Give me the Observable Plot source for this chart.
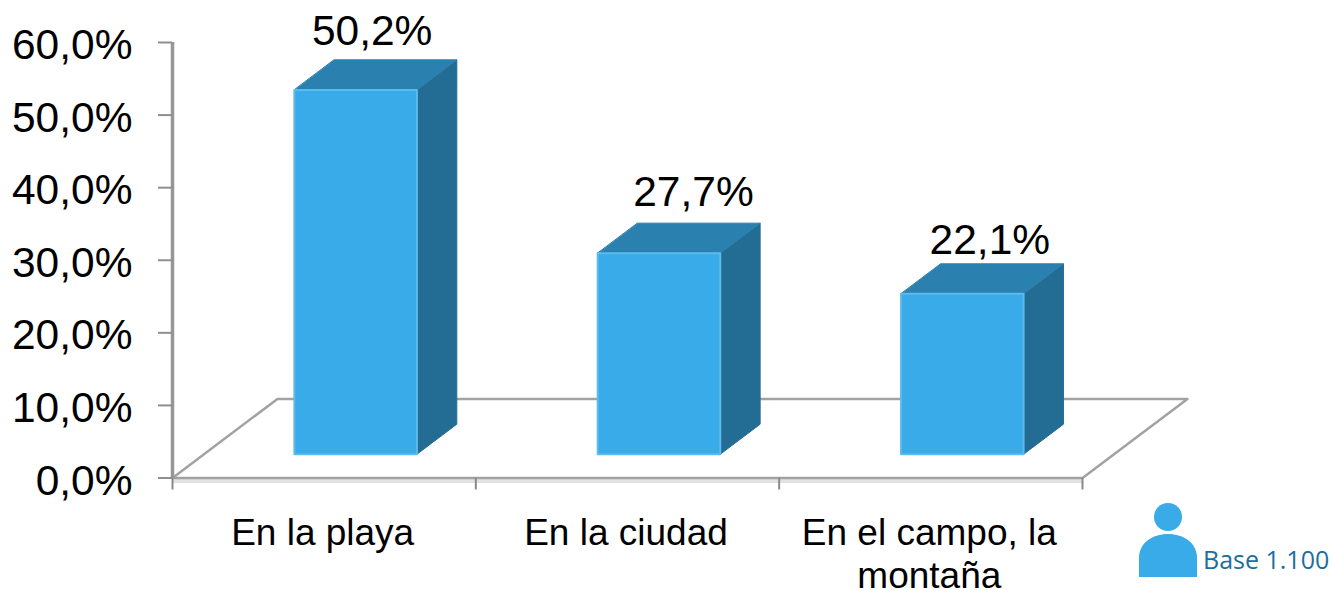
<!DOCTYPE html>
<html lang="es">
<head>
<meta charset="utf-8">
<script src="https://cdn.jsdelivr.net/npm/d3@7"></script>
<script src="https://cdn.jsdelivr.net/npm/@observablehq/plot@0.6"></script>
<style>
  html, body { margin: 0; padding: 0; background: #fff; }
  #wrap { position: relative; width: 1332px; height: 590px; overflow: hidden; }
  #wrap svg { display: block; }
  #icon { position: absolute; left: 1139px; top: 503px; }
  #base { position: absolute; left: 1203px; top: 543px; font: 25px "Open Sans", sans-serif; color: #1a6f9f; white-space: nowrap; line-height: 32px; }
</style>
</head>
<body>
<div id="wrap"></div>
<script>
const categories = ["En la playa", "En la ciudad", "En el campo, la\nmontaña"];
const values = [50.2, 27.7, 22.1];
const valueLabels = ["50,2%", "27,7%", "22,1%"];
const yTicks = [0, 10, 20, 30, 40, 50, 60];
const xBoundaries = [0, 1, 2, 3];

// Oblique projection: depth w (0 = front of floor, 1 = back of floor)
const depthX = 0.346, depthY = 10.9;
const barFront = 0.30, barBack = 0.68, barHalf = 0.202;
const P = (u, v, w) => ({x: u + w * depthX, y: v + w * depthY});

const faces = [];
categories.forEach((c, i) => {
  const u = i + 0.5, v = values[i];
  const l = u - barHalf, r = u + barHalf;
  const poly = (name, pts) => pts.forEach(p => faces.push({id: name + i, face: name, ...P(...p)}));
  poly("side",  [[r, 0, barFront], [r, 0, barBack], [r, v, barBack], [r, v, barFront]]);
  poly("top",   [[l, v, barFront], [r, v, barFront], [r, v, barBack], [l, v, barBack]]);
  poly("front", [[l, 0, barFront], [r, 0, barFront], [r, v, barFront], [l, v, barFront]]);
});
const faceOf = f => faces.filter(d => d.face === f);
const floor = [[0,0,0],[0,0,1],[3,0,1],[3,0,0]].map(p => P(...p));
const nudges = [[16.5, -28], [34.5, -31], [27.5, -23]];
const tickText = d => d.toFixed(1).replace(".", ",") + "%";

const plot = Plot.plot({
  width: 1332, height: 590,
  marginLeft: 172, marginRight: 250, marginTop: 42, marginBottom: 112.5,
  style: {fontFamily: '"Liberation Sans", Arial, sans-serif', background: "#fff", color: "#000"},
  x: {domain: [0, 3]},
  y: {domain: [0, 60]},
  marks: [
    // floor
    Plot.ruleY([0], {x1: 0, x2: 3, stroke: "#e2e2e2", strokeWidth: 4, dy: 3}),
    Plot.line(floor, {x: "x", y: "y", stroke: "#a2a2a2", strokeWidth: 2.5, curve: "linear-closed"}),
    // axes
    Plot.ruleX([0], {y1: 0, y2: 60, stroke: "#969696", strokeWidth: 3.5}),
    Plot.axisY({ticks: yTicks, anchor: "left", tickSize: 14, tickFormat: () => "", label: null,
      stroke: "#8f8f8f", strokeWidth: 2}),
    Plot.axisY({ticks: yTicks, anchor: "left", tickSize: 0, tickPadding: 40, label: null, dy: 3,
      tickFormat: tickText, fontSize: 42.5, fill: "#000"}),
    Plot.axisX({ticks: xBoundaries, anchor: "bottom", tickSize: 12, tickFormat: () => "", label: null,
      stroke: "#8a8a8a", strokeWidth: 2}),
    // bars
    Plot.line(faceOf("side"),  {x: "x", y: "y", z: "id", fill: "#236d94", stroke: "#236d94", strokeWidth: 1, curve: "linear-closed"}),
    Plot.line(faceOf("top"),   {x: "x", y: "y", z: "id", fill: "#2a80ae", stroke: "#2a80ae", strokeWidth: 1, curve: "linear-closed"}),
    Plot.line(faceOf("front"), {x: "x", y: "y", z: "id", fill: "#38abe8", stroke: "#5cbbec", strokeWidth: 2, curve: "linear-closed"}),
    // value labels
    ...categories.map((c, i) => Plot.text([values[i]], {
      x: () => i + 0.5 + barFront * depthX, y: () => values[i] + barBack * depthY,
      text: () => valueLabels[i], fontSize: 42.5, fill: "#000",
      dx: nudges[i][0], dy: nudges[i][1]
    })),
    // category labels
    Plot.text(categories, {
      x: (d, i) => i + 0.5, y: () => 0, text: d => d, fontSize: 37, fill: "#000",
      lineAnchor: "top", lineHeight: 1.17, dy: 36, dx: -1.5
    })
  ]
});
const wrap = document.getElementById("wrap");
wrap.appendChild(plot);
wrap.insertAdjacentHTML("beforeend",
  `<svg id="icon" width="58" height="74" viewBox="0 0 58 74">
     <circle cx="29" cy="14" r="14" fill="#38abe8"/>
     <path d="M0 74V55C0 40 13 31 29 31S58 40 58 55V74Z" fill="#38abe8"/>
   </svg>
   <div id="base">Base 1.100</div>`);
</script>
</body>
</html>
